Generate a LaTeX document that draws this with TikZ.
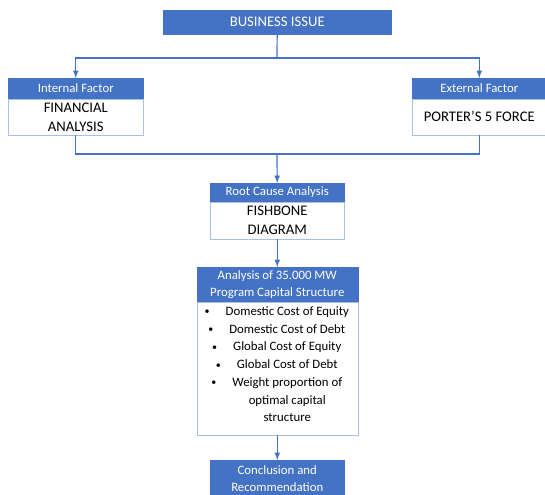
\documentclass[tikz,border=0pt]{standalone}
\usepackage{fontspec}
\setmainfont{Carlito}
\usetikzlibrary{positioning}
\definecolor{hdblue}{RGB}{68,114,196}
\definecolor{edgeblue}{RGB}{166,192,232}
\newcommand{\dotitem}{\makebox[0pt][r]{\raisebox{0.5pt}{\fontsize{7.5}{7.5}\selectfont\textbullet}\hspace{12pt}}}

\begin{document}
\begin{tikzpicture}[>=latex, x=0.75pt, y=-0.75pt,
  head/.style={draw=hdblue, fill=hdblue, text=white, inner sep=0pt, align=center,
    font=\fontsize{9.6}{12.75}\selectfont},
  body/.style={draw=edgeblue, fill=white, inner sep=0pt, align=center,
    font=\fontsize{11}{14.25}\selectfont},
  link/.style={draw=hdblue, line width=0.9pt}]
\useasboundingbox (0,0) rectangle (545,494);
% top
\node[head, anchor=north west, minimum width=171pt, minimum height=18pt,
  font=\fontsize{11}{14}\selectfont] (issue) at (163,10) {BUSINESS ISSUE};
% factors
\node[head, anchor=north west, minimum width=101.25pt, minimum height=15pt] (inthd) at (8,78) {Internal Factor};
\node[body, below=0pt of inthd, minimum width=101.25pt, minimum height=27pt] (intbd) {FINANCIAL\\ANALYSIS};
\node[head, anchor=north west, minimum width=100.5pt, minimum height=15pt] (exthd) at (412,78) {External Factor};
\node[body, below=0pt of exthd, minimum width=100.5pt, minimum height=27pt] (extbd) {PORTER’S 5 FORCE};
% root cause
\node[head, anchor=north west, minimum width=100.5pt, minimum height=13.5pt] (roothd) at (210,183) {Root Cause Analysis};
\node[body, below=0pt of roothd, minimum width=100.5pt, minimum height=27.75pt] (rootbd) {FISHBONE\\DIAGRAM};
% capital structure
\node[head, anchor=north west, minimum width=120.75pt, minimum height=25.5pt] (caphd) at (196.5,267)
  {Analysis of 35.000 MW\\Program Capital Structure};
\node[body, below=0pt of caphd, minimum width=120.75pt, minimum height=99.75pt] (capbd) {};
\node[align=center, inner sep=0pt, font=\fontsize{9.6}{13.3}\selectfont] (costs)
  at ([xshift=7.5pt, yshift=3pt]capbd.center) {%
  \dotitem Domestic Cost of Equity\\
  \dotitem Domestic Cost of Debt\\
  \dotitem Global Cost of Equity\\
  \dotitem Global Cost of Debt\\
  \dotitem Weight proportion of\\
  optimal capital\\
  structure};
% end
\node[head, anchor=north west, minimum width=100.5pt, minimum height=27pt] (concl) at (210,460)
  {Conclusion and\\Recommendation};

\coordinate (fork) at (277,58);
\coordinate (join) at (277,154);
\draw[link] (issue) -- (fork);
\draw[link,->] (fork) -| (inthd);
\draw[link,->] (fork) -| (exthd);
\draw[link] (intbd) |- (join);
\draw[link] (extbd) |- (join);
\draw[link,->] (join) -- (roothd);
\draw[link,->] (rootbd) -- (caphd);
\draw[link,->] (capbd) -- (concl);
\end{tikzpicture}
\end{document}
